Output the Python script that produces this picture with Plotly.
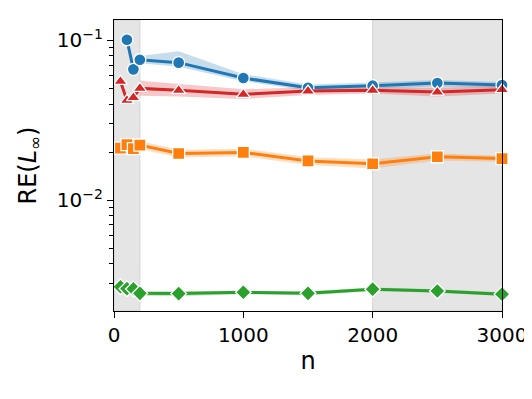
import plotly.graph_objects as go

# sample sizes
n_blue = [100, 150, 200, 500, 1000, 1500, 2000, 2500, 3000]
n_all = [50, 100, 150, 200, 500, 1000, 1500, 2000, 2500, 3000]
n_band = [200, 500, 1000, 1500, 2000, 2500, 3000]

# relative errors
blue_y = [0.101, 0.0659, 0.0757, 0.0726, 0.0582, 0.0505, 0.0521, 0.0541, 0.0526]
blue_lo = [0.072, 0.0685, 0.0555, 0.0485, 0.050, 0.0515, 0.0505]
blue_hi = [0.080, 0.0857, 0.0615, 0.053, 0.0545, 0.0565, 0.055]

red_y = [0.0554, 0.0422, 0.0438, 0.0501, 0.0487, 0.046, 0.0482, 0.0487, 0.0475, 0.0492]
red_lo = [0.045, 0.0445, 0.043, 0.0455, 0.0465, 0.0445, 0.0465]
red_hi = [0.056, 0.0535, 0.0495, 0.051, 0.051, 0.0505, 0.052]

orange_y = [0.0212, 0.0223, 0.021, 0.0221, 0.0196, 0.0199, 0.0176, 0.0169, 0.0187, 0.0182]
orange_lo = [0.0208, 0.0185, 0.0188, 0.0166, 0.0158, 0.0177, 0.0174]
orange_hi = [0.0235, 0.0207, 0.021, 0.0186, 0.018, 0.0197, 0.019]

green_y = [0.00287, 0.00279, 0.00278, 0.00261, 0.0026, 0.00265, 0.00261, 0.00277, 0.0027, 0.00258]
green_lo = [0.00252, 0.0025, 0.00258, 0.00253, 0.0027, 0.00263, 0.00251]
green_hi = [0.0027, 0.0027, 0.00272, 0.0027, 0.00284, 0.00277, 0.00265]

# shaded n ranges
spans = [(0, 200), (2000, 3000)]

series = [
    (n_blue, blue_y, blue_lo, blue_hi, "#1f77b4", "rgba(31,119,180,0.25)", "circle"),
    (n_all, orange_y, orange_lo, orange_hi, "#ff7f0e", "rgba(255,127,14,0.25)", "square"),
    (n_all, green_y, green_lo, green_hi, "#2ca02c", "rgba(44,160,44,0.25)", "diamond"),
    (n_all, red_y, red_lo, red_hi, "#d62728", "rgba(214,39,40,0.25)", "triangle-up"),
]

fig = go.Figure()

# confidence bands first
for xs, ys, lo, hi, col, fillcol, sym in series:
    fig.add_trace(go.Scatter(
        x=n_band + n_band[::-1], y=hi + lo[::-1],
        fill="toself", fillcolor=fillcol, mode="lines",
        line=dict(width=0), hoverinfo="skip", showlegend=False,
    ))

for xs, ys, lo, hi, col, fillcol, sym in series:
    fig.add_trace(go.Scatter(
        x=xs, y=ys, mode="lines+markers",
        line=dict(color=col, width=3),
        marker=dict(symbol=sym, size=12, color=col, line=dict(color="white", width=1.3)),
        showlegend=False, cliponaxis=False,
    ))

for a, b in spans:
    fig.add_shape(type="rect", xref="x", yref="paper", x0=a, x1=b, y0=0, y1=1,
                  fillcolor="#e5e5e5", line=dict(color="#d2d2d2", width=1), layer="below")

major = [0.01, 0.1]
minor = [k * 10 ** e for e in (-3, -2) for k in range(2, 10)]

# the page body has an 8px margin, so the figure is shifted by that much
fig.update_layout(
    width=524, height=391,
    margin=dict(l=106, r=30, t=11.5, b=88, autoexpand=False),
    plot_bgcolor="white", paper_bgcolor="white",
    font=dict(family="DejaVu Sans", size=20, color="black"),
    xaxis=dict(
        range=[0, 3000], tickvals=[0, 1000, 2000, 3000],
        ticks="outside", ticklen=6, tickwidth=1.2, tickcolor="black",
        showline=True, linecolor="black", linewidth=1.3, mirror=True,
        showgrid=False, zeroline=False, automargin=False,
        title=dict(text="n", standoff=6),
    ),
    yaxis=dict(
        type="log", range=[-2.694, -0.872],
        tickvals=major, ticktext=["10<sup>−2</sup>", "10<sup>−1</sup>"],
        ticks="outside", ticklen=6, tickwidth=1.2, tickcolor="black",
        minor=dict(tickvals=minor, ticks="outside", ticklen=3.5, tickwidth=1, tickcolor="black"),
        showline=True, linecolor="black", linewidth=1.3, mirror=True,
        showgrid=False, zeroline=False, automargin=False,
        title=dict(text="RE(<i>L</i><sub>∞</sub>)", standoff=13),
    ),
)

fig.write_html("out.html")
